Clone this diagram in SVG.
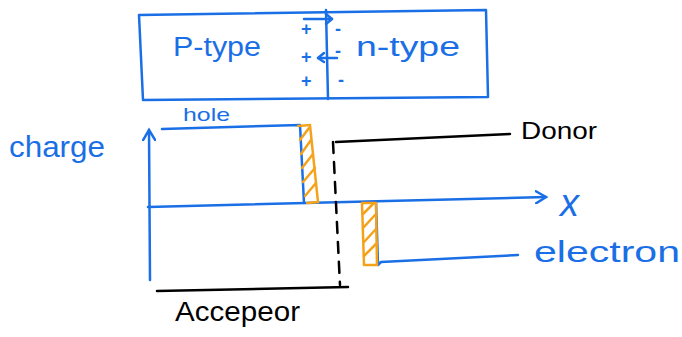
<svg xmlns="http://www.w3.org/2000/svg" width="682" height="337" viewBox="0 0 682 337">
<style>
.b{stroke:#1a6fe6;stroke-width:2.5;fill:none;stroke-linecap:round;stroke-linejoin:round}
.k{stroke:#000;stroke-width:2.5;fill:none;stroke-linecap:round}
.o{stroke:#f5a21b;stroke-width:2.5;fill:none;stroke-linecap:round}
.tb{fill:#1a6fe6;font-family:"Liberation Sans",Arial,sans-serif}
.tk{fill:#000;font-family:"Liberation Sans",Arial,sans-serif}
.s{font-weight:bold;font-size:18px}
</style>
<defs>
<marker id="ar" markerWidth="14" markerHeight="14" refX="11" refY="7" orient="auto" markerUnits="userSpaceOnUse">
<path d="M1,1 L11,7 L1,13" fill="none" stroke="#1a6fe6" stroke-width="2.5" stroke-linecap="round"/>
</marker>
</defs>
<rect width="682" height="337" fill="#fff"/>
<g id="junction">
<path class="b" d="M139,15 L486,10 L488,97 L143,100 Z"/>
<line class="b" x1="326" y1="10" x2="328" y2="99"/>
<line class="b" x1="304" y1="19" x2="332" y2="19"/>
<path class="b" d="M326,14 L332,19 L326,24"/>
<line class="b" x1="337" y1="58" x2="318" y2="58"/>
<path class="b" d="M324,53 L318,58 L324,62"/>
<text class="tb s" x="301" y="35">+</text>
<text class="tb s" x="301" y="63">+</text>
<text class="tb s" x="301" y="87">+</text>
<text class="tb s" x="335" y="35">-</text>
<text class="tb s" x="335" y="57">-</text>
<text class="tb s" x="338" y="86">-</text>
<text class="tb" x="173" y="56" font-size="27" textLength="88" lengthAdjust="spacingAndGlyphs">P-type</text>
<text class="tb" x="356" y="56" font-size="27" textLength="104" lengthAdjust="spacingAndGlyphs">n-type</text>
</g>
<g id="connectors">
<line class="b" x1="150" y1="280" x2="149" y2="130" marker-end="url(#ar)"/>
<line class="b" x1="148" y1="207" x2="546" y2="197" marker-end="url(#ar)"/>
</g>
<g id="hole">
<path class="b" d="M162,129 L300,125 L304,203"/>
<path class="o" d="M298,126 L310,125 L318,202 L307,203"/>
<path class="o" d="M300,140 L309,128 M301,154 L311,140 M302,168 L313,154 M303,182 L315,168 M305,196 L316,183"/>
<text class="tb" x="183" y="121" font-size="19" textLength="47" lengthAdjust="spacingAndGlyphs">hole</text>
</g>
<g id="electron">
<path class="b" d="M376,202 L378,265 L381,262 L518,255"/>
<path class="o" d="M362,203 L376,203 L377,265 L364,265 Z" stroke-linejoin="round"/>
<path class="o" d="M363,214 L373,204 M363,228 L375,215 M364,242 L376,229 M364,256 L377,243"/>
<text class="tb" x="534" y="262" font-size="30" textLength="146" lengthAdjust="spacingAndGlyphs">electron</text>
</g>
<g id="donor">
<path class="k" d="M336,142 L510,134"/>
<path class="k" d="M333,142 L340,285" stroke-dasharray="11,9"/>
<text class="tk" x="521" y="139" font-size="24" textLength="76" lengthAdjust="spacingAndGlyphs">Donor</text>
</g>
<g id="acceptor">
<path class="k" d="M157,291 L348,287"/>
<text class="tk" x="175" y="321" font-size="27" textLength="125" lengthAdjust="spacingAndGlyphs">Accepeor</text>
</g>
<text class="tb" x="9" y="157" font-size="30" textLength="96" lengthAdjust="spacingAndGlyphs">charge</text>
<text class="tb" x="560" y="216" font-size="38" font-style="italic">x</text>
</svg>
